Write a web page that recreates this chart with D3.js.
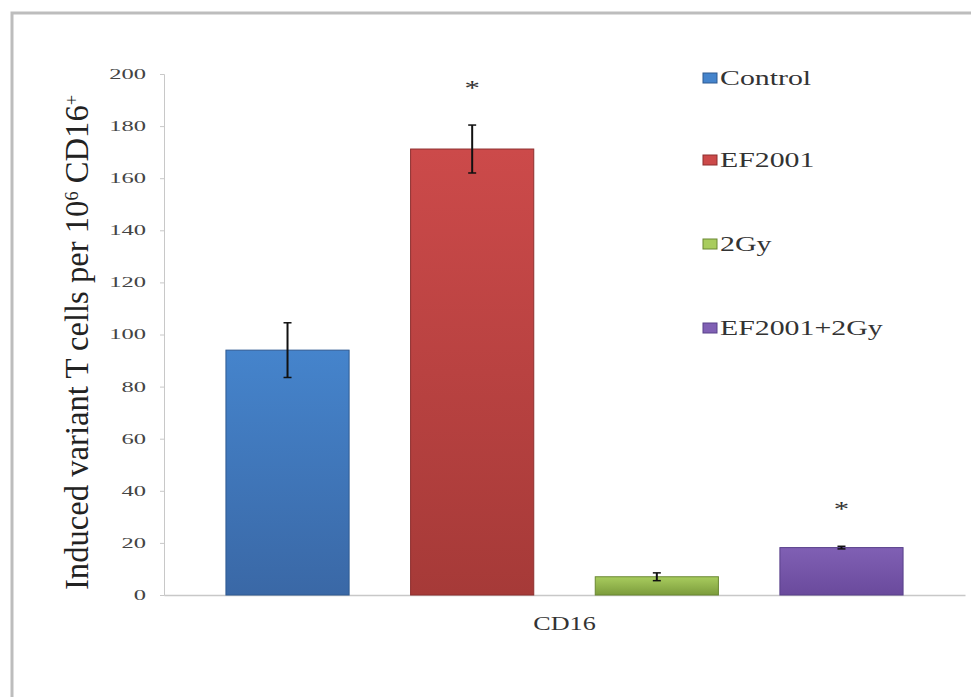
<!DOCTYPE html>
<html>
<head>
<meta charset="utf-8">
<script src="https://cdn.jsdelivr.net/npm/d3@7"></script>
<style>
  html, body { margin: 0; padding: 0; background: #fff; }
  svg { display: block; }
</style>
</head>
<body>
<svg id="chart" width="971" height="697"></svg>
<script>
// Groups, means and error half-widths
const groups = ["Control", "EF2001", "2Gy", "EF2001+2Gy"];
const means = [94, 171.2, 7, 18.2];
const errors = [10.5, 9.2, 1.5, 0.5];
const significant = [false, true, false, true];
const category = ["CD16"];
const yTicks = [0, 20, 40, 60, 80, 100, 120, 140, 160, 180, 200];

// Top / bottom shades of each bar's vertical gradient
const topColors = ["#4584cc", "#cc4a4a", "#a8cc5e", "#8060b4"];
const bottomColors = ["#3a68a6", "#a63a38", "#7c9c3c", "#6a4a9c"];
const edgeColors = ["#2f5a92", "#8e2f2e", "#6a8832", "#58408a"];

const svg = d3.select("#chart");
const serif = "'Liberation Serif', 'DejaVu Serif', serif";

// Widen a text element horizontally by a factor, keeping its anchor
function widen(sel, factor) {
  sel.each(function () {
    const len = this.getComputedTextLength();
    d3.select(this).attr("textLength", len * factor).attr("lengthAdjust", "spacingAndGlyphs");
  });
}

// Outer frame
svg.append("rect")
  .attr("x", 12).attr("y", 13)
  .attr("width", 980).attr("height", 700)
  .attr("fill", "none").attr("stroke", "#bdbdbd").attr("stroke-width", 3);

const plot = { left: 164, right: 965, top: 74, bottom: 595 };

const y = d3.scaleLinear().domain([0, 200]).range([plot.bottom, plot.top]);
const x = d3.scaleBand().domain(groups).range([plot.left + 1, plot.right - 1])
  .paddingInner(0.333).paddingOuter(0.33);

// Gradients
const defs = svg.append("defs");
groups.forEach((g, i) => {
  const grad = defs.append("linearGradient")
    .attr("id", "grad" + i).attr("x1", 0).attr("y1", 0).attr("x2", 0).attr("y2", 1);
  grad.append("stop").attr("offset", "0%").attr("stop-color", topColors[i]);
  grad.append("stop").attr("offset", "100%").attr("stop-color", bottomColors[i]);
});

// Y axis
const yAxis = d3.axisLeft(y).tickValues(yTicks).tickSize(4).tickPadding(14);
const yg = svg.append("g").attr("transform", `translate(${plot.left},0)`).call(yAxis);
yg.attr("font-family", null).attr("font-size", null);
yg.select(".domain").attr("stroke", "#c8c8c8");
yg.selectAll(".tick line").attr("stroke", "#c8c8c8");
yg.selectAll(".tick text")
  .style("font-family", serif).style("font-size", "14px").attr("fill", "#444")
  .call(widen, 1.75);

// X baseline
const xLine = d3.scaleBand().domain(category).range([plot.left, plot.right]);
const xAxis = d3.axisBottom(xLine).tickSize(0).tickPadding(22);
const xg = svg.append("g").attr("transform", `translate(0,${plot.bottom})`).call(xAxis);
xg.attr("font-family", null).attr("font-size", null);
xg.select(".domain").attr("stroke", "#c8c8c8").attr("stroke-width", 1.5);
xg.selectAll(".tick text")
  .style("font-family", serif).style("font-size", "18px").attr("fill", "#333")
  .call(widen, 1.45);

// Bars
svg.selectAll("rect.bar").data(groups).enter().append("rect")
  .attr("class", "bar")
  .attr("x", d => x(d))
  .attr("y", (d, i) => y(means[i]))
  .attr("width", x.bandwidth())
  .attr("height", (d, i) => y(0) - y(means[i]))
  .attr("fill", (d, i) => `url(#grad${i})`)
  .attr("stroke", (d, i) => edgeColors[i])
  .attr("stroke-width", 1);

// Error bars
const eb = svg.selectAll("g.err").data(groups).enter().append("g").attr("class", "err");
eb.append("line")
  .attr("x1", d => x(d) + x.bandwidth() / 2).attr("x2", d => x(d) + x.bandwidth() / 2)
  .attr("y1", (d, i) => y(means[i] + errors[i])).attr("y2", (d, i) => y(means[i] - errors[i]))
  .attr("stroke", "#111").attr("stroke-width", 2);
[1, -1].forEach(sign => {
  eb.append("line")
    .attr("x1", d => x(d) + x.bandwidth() / 2 - 4).attr("x2", d => x(d) + x.bandwidth() / 2 + 4)
    .attr("y1", (d, i) => y(means[i] + sign * errors[i]))
    .attr("y2", (d, i) => y(means[i] + sign * errors[i]))
    .attr("stroke", "#111").attr("stroke-width", 1.5);
});

// Significance marks
svg.selectAll("text.sig").data(groups.filter((g, i) => significant[i])).enter().append("text")
  .attr("class", "sig")
  .attr("x", d => x(d) + x.bandwidth() / 2)
  .attr("y", d => {
    const i = groups.indexOf(d);
    return y(means[i] + errors[i]) - 30;
  })
  .attr("text-anchor", "middle")
  .style("font-family", serif).style("font-size", "22px").attr("fill", "#333")
  .text("*")
  .call(widen, 1.4);

// Y axis title
const title = svg.append("text")
  .attr("transform", `translate(88,${(plot.top + plot.bottom) / 2 + 8}) rotate(-90)`)
  .attr("text-anchor", "middle")
  .style("font-family", serif).style("font-size", "34px").attr("fill", "#222")
  .attr("textLength", 495).attr("lengthAdjust", "spacingAndGlyphs");
title.append("tspan").text("Induced variant T cells per 10");
title.append("tspan").attr("baseline-shift", "super").style("font-size", "19px").text("6");
title.append("tspan").text(" CD16");
title.append("tspan").attr("baseline-shift", "super").style("font-size", "19px").text("+");

// Legend
const legendY = [78, 160, 244, 328];
const lg = svg.selectAll("g.legend").data(groups).enter().append("g")
  .attr("class", "legend")
  .attr("transform", (d, i) => `translate(703,${legendY[i]})`);
lg.append("rect").attr("x", 0).attr("y", -5).attr("width", 14).attr("height", 10)
  .attr("fill", (d, i) => topColors[i]).attr("stroke", (d, i) => edgeColors[i]);
lg.append("text").attr("x", 17).attr("y", 7)
  .style("font-family", serif).style("font-size", "21px").attr("fill", "#333")
  .text(d => d)
  .call(widen, 1.42);
</script>
</body>
</html>
